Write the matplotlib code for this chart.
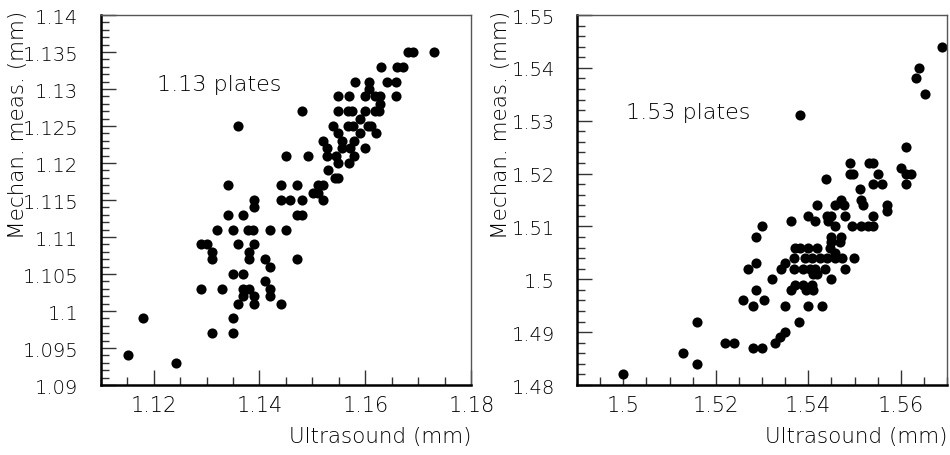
import matplotlib
matplotlib.use("Agg")
import matplotlib.pyplot as plt
from matplotlib.ticker import FixedLocator, MultipleLocator, FuncFormatter

# 1.13 mm plates: ultrasound vs mechanical measurement (mm)
left_us = [
    1.168, 1.169, 1.173,
    1.163, 1.166, 1.167,
    1.158, 1.1607, 1.164, 1.1658,
    1.1607,
    1.1548, 1.1569, 1.160, 1.1618, 1.1627, 1.1658,
    1.1627,
    1.1548, 1.1567, 1.1574, 1.160, 1.1618, 1.1626, 1.1481,
    1.1589,
    1.1539, 1.1567, 1.1577, 1.1605, 1.1611, 1.136,
    1.1548, 1.1589, 1.1619,
    1.1519, 1.1555, 1.1578,
    1.1527, 1.1555, 1.157, 1.1599,
    1.145, 1.1492, 1.1527, 1.1545, 1.1578,
    1.1548, 1.1569,
    1.153,
    1.1542, 1.1548,
    1.1341, 1.144, 1.147, 1.1511, 1.152,
    1.1501, 1.1511,
    1.139, 1.1441, 1.1457, 1.1481, 1.152,
    1.139,
    1.134, 1.1369, 1.1471, 1.1481,
    1.1319, 1.135, 1.1379, 1.1388, 1.142, 1.145,
    1.129, 1.1301, 1.136, 1.139,
    1.131, 1.138,
    1.131, 1.138, 1.141, 1.147,
    1.142,
    1.135, 1.1369,
    1.141,
    1.129, 1.133, 1.1369, 1.138, 1.142,
    1.1369, 1.139, 1.142,
    1.136, 1.139, 1.1441,
    1.1181, 1.135,
    1.131, 1.135,
    1.1152,
    1.1242,
]
left_mech = [
    1.135, 1.135, 1.135,
    1.133, 1.133, 1.133,
    1.131, 1.131, 1.131, 1.131,
    1.130,
    1.129, 1.129, 1.129, 1.129, 1.129, 1.129,
    1.128,
    1.127, 1.127, 1.127, 1.127, 1.127, 1.127, 1.127,
    1.126,
    1.125, 1.125, 1.125, 1.125, 1.125, 1.125,
    1.124, 1.124, 1.124,
    1.123, 1.123, 1.123,
    1.122, 1.122, 1.122, 1.122,
    1.121, 1.121, 1.121, 1.121, 1.121,
    1.120, 1.120,
    1.119,
    1.118, 1.118,
    1.117, 1.117, 1.117, 1.117, 1.117,
    1.116, 1.116,
    1.115, 1.115, 1.115, 1.115, 1.115,
    1.114,
    1.113, 1.113, 1.113, 1.113,
    1.111, 1.111, 1.111, 1.111, 1.111, 1.111,
    1.109, 1.109, 1.109, 1.109,
    1.108, 1.108,
    1.107, 1.107, 1.107, 1.107,
    1.106,
    1.105, 1.105,
    1.104,
    1.103, 1.103, 1.103, 1.103, 1.103,
    1.102, 1.102, 1.102,
    1.101, 1.101, 1.101,
    1.099, 1.099,
    1.097, 1.097,
    1.094,
    1.093,
]

# 1.53 mm plates
right_us = [
    1.5689, 1.5640, 1.5632, 1.5652, 1.5381, 1.5611,
    1.5491, 1.5532, 1.5540,
    1.5491, 1.5496, 1.5551, 1.5612, 1.5621,
    1.5600,
    1.5438,
    1.5539, 1.5560, 1.5612,
    1.5511,
    1.5470, 1.5515,
    1.5519, 1.5457, 1.5478, 1.5418, 1.5571,
    1.5571,
    1.5400, 1.5440, 1.5450, 1.5479, 1.5540,
    1.5414, 1.5362, 1.5443,
    1.5300, 1.5457, 1.5494, 1.5515, 1.5529, 1.5540,
    1.5288, 1.5450, 1.5470,
    1.5450, 1.5468,
    1.5447, 1.5371, 1.5382, 1.5400, 1.5418,
    1.5457,
    1.5370, 1.5393, 1.5407, 1.5425, 1.5440, 1.5457, 1.5472, 1.5499,
    1.5288, 1.5349,
    1.5270, 1.5342, 1.5370, 1.5389, 1.5403, 1.5414, 1.5436, 1.5479,
    1.5411, 1.5418,
    1.5321, 1.5450,
    1.5371, 1.5389, 1.5407,
    1.5288, 1.5362, 1.5396, 1.5411,
    1.5259, 1.5305,
    1.5280, 1.5349, 1.5400, 1.5430,
    1.5160, 1.5380,
    1.5349, 1.5339, 1.5329,
    1.5220, 1.5240,
    1.5280, 1.5300,
    1.5130,
    1.5160,
    1.5000,
]
right_mech = [
    1.544, 1.540, 1.538, 1.535, 1.531, 1.525,
    1.522, 1.522, 1.522,
    1.520, 1.520, 1.520, 1.520, 1.520,
    1.521,
    1.519,
    1.518, 1.518, 1.518,
    1.517,
    1.515, 1.515,
    1.514, 1.514, 1.514, 1.514, 1.514,
    1.513,
    1.512, 1.512, 1.512, 1.512, 1.512,
    1.511, 1.511, 1.511,
    1.510, 1.510, 1.510, 1.510, 1.510, 1.510,
    1.508, 1.508, 1.508,
    1.507, 1.507,
    1.506, 1.506, 1.506, 1.506, 1.506,
    1.505,
    1.504, 1.504, 1.504, 1.504, 1.504, 1.504, 1.504, 1.504,
    1.503, 1.503,
    1.502, 1.502, 1.502, 1.502, 1.502, 1.502, 1.502, 1.502,
    1.501, 1.501,
    1.500, 1.500,
    1.499, 1.499, 1.499,
    1.498, 1.498, 1.498, 1.498,
    1.496, 1.496,
    1.495, 1.495, 1.495, 1.495,
    1.492, 1.492,
    1.490, 1.489, 1.488,
    1.488, 1.488,
    1.487, 1.487,
    1.486,
    1.484,
    1.482,
]

left_xticks = [1.12, 1.14, 1.16, 1.18]
left_yticks = [1.09, 1.095, 1.10, 1.105, 1.11, 1.115, 1.12, 1.125, 1.13,
               1.135, 1.14]
right_xticks = [1.50, 1.52, 1.54, 1.56]
right_yticks = [1.48, 1.49, 1.50, 1.51, 1.52, 1.53, 1.54, 1.55]

plt.rcParams["font.family"] = ["DejaVu Sans"]
plt.rcParams["font.weight"] = "light"


def fmt(v, pos):
    return f"{round(v, 4):g}"


def draw_panel(ax, us, mech, xlim, ylim, xticks, yticks, xminor, yminor,
               label, label_xy, ylabel_x):
    ax.plot(us, mech, "o", color="black", markersize=7.3, markeredgewidth=0)
    ax.set_xlim(*xlim)
    ax.set_ylim(*ylim)
    ax.xaxis.set_major_locator(FixedLocator(xticks))
    ax.yaxis.set_major_locator(FixedLocator(yticks))
    ax.xaxis.set_minor_locator(MultipleLocator(xminor))
    ax.yaxis.set_minor_locator(MultipleLocator(yminor))
    ax.xaxis.set_major_formatter(FuncFormatter(fmt))
    ax.yaxis.set_major_formatter(FuncFormatter(fmt))

    ax.tick_params(which="both", direction="in", top=False, right=False,
                   color="#333333", width=1.0)
    ax.tick_params(which="major", length=11)
    ax.tick_params(which="minor", length=5.5)
    ax.tick_params(axis="y", which="major", pad=16, labelsize=14)
    ax.tick_params(axis="x", which="major", pad=7, labelsize=15)

    for side in ["left", "bottom"]:
        ax.spines[side].set_linewidth(1.8)
        ax.spines[side].set_color("black")
    for side in ["top", "right"]:
        ax.spines[side].set_linewidth(1.0)
        ax.spines[side].set_color("#555555")

    ax.text(label_xy[0], label_xy[1], label, fontsize=16, va="center",
            ha="left")
    ax.text(ylabel_x, 1.015, "Mechan. meas. (mm)", transform=ax.transAxes,
            rotation=90, ha="center", va="top", fontsize=15.5)
    ax.text(1.0, -0.138, "Ultrasound (mm)", transform=ax.transAxes,
            ha="right", va="center", fontsize=15.5)


def main():
    fig = plt.figure(figsize=(9.5, 4.56), dpi=100)
    ax1 = fig.add_axes([0.1058, 0.1535, 0.3905, 0.8114])
    ax2 = fig.add_axes([0.6074, 0.1535, 0.3895, 0.8114])

    draw_panel(ax1, left_us, left_mech, (1.11, 1.18), (1.09, 1.14),
               left_xticks, left_yticks, 0.005, 0.001,
               "1.13 plates", (1.1207, 1.1307), -0.222)
    draw_panel(ax2, right_us, right_mech, (1.49, 1.57), (1.48, 1.55),
               right_xticks, right_yticks, 0.005, 0.002,
               "1.53 plates", (1.5006, 1.5317), -0.205)

    fig.savefig("out.png", dpi=100)
    plt.close("all")


if __name__ == "__main__":
    main()
